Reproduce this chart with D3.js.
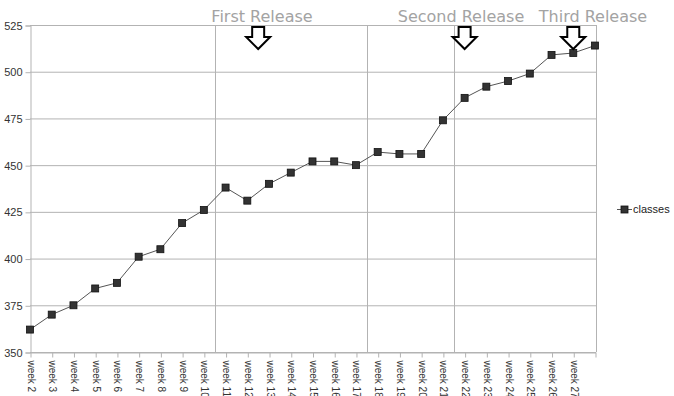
<!DOCTYPE html>
<html>
<head>
<meta charset="utf-8">
<script src="https://cdn.jsdelivr.net/npm/d3@7"></script>
<style>
  html, body { margin: 0; padding: 0; background: #fff; }
  svg { display: block; }
</style>
</head>
<body>
<svg id="chart" width="674" height="396"></svg>
<script>
// Weekly count of classes in the code base
const weeks = ["week 2","week 3","week 4","week 5","week 6","week 7","week 8","week 9","week 10",
  "week 11","week 12","week 13","week 14","week 15","week 16","week 17","week 18","week 19",
  "week 20","week 21","week 22","week 23","week 24","week 25","week 26","week 27","week 28"];
const classes = [362,370,375,384,387,401,405,419,426,438,431,440,446,452,452,450,457,456,456,
  474,486,492,495,499,509,510,514];
const yTicks = [350,375,400,425,450,475,500,525];
// Week labels drawn under the axis (the last category has no label)
const shownLabels = weeks.slice(0, 26);
// Phase separators: drawn halfway between these two weeks
const separators = [["week 10","week 11"],["week 17","week 18"],["week 21","week 22"]];
// Release markers: label, week, fractional step offset
const releases = [
  {label: "First Release", week: "week 12", shift: 0.5},
  {label: "Second Release", week: "week 22", shift: 0},
  {label: "Third Release", week: "week 27", shift: 0}
];
const releaseLabelX = [262, 461, 593];
const seriesName = "classes";

const svg = d3.select("#chart");
const margin = {left: 30, top: 25};

const x = d3.scalePoint().domain(weeks).range([margin.left, 595]);
const y = d3.scaleLinear().domain([350, 525]).range([352, margin.top]);
const step = x.step();

const grid = "#b3b3b3";
const font = "Liberation Sans, Arial, sans-serif";

// horizontal gridlines
svg.append("g").selectAll("line").data(yTicks).join("line")
  .attr("x1", margin.left).attr("x2", 596)
  .attr("y1", d => y(d) + 0.5).attr("y2", d => y(d) + 0.5)
  .attr("stroke", grid).attr("stroke-width", 1);

// vertical separators and right frame
const vx = separators.map(([a, b]) => (x(a) + x(b)) / 2).concat([596]);
svg.append("g").selectAll("line").data(vx).join("line")
  .attr("x1", d => Math.round(d) + 0.5).attr("x2", d => Math.round(d) + 0.5)
  .attr("y1", y(525)).attr("y2", y(350))
  .attr("stroke", grid).attr("stroke-width", 1);

// y axis
const yAxis = d3.axisLeft(y).tickValues(yTicks).tickSize(5).tickPadding(3);
const gy = svg.append("g").attr("transform", `translate(${margin.left + 0.5},0.5)`).call(yAxis);
gy.select(".domain").attr("stroke", grid);
gy.selectAll(".tick line").attr("stroke", grid);
gy.selectAll("text").attr("font-family", font).attr("font-size", 11).attr("fill", "#333");

// x axis with vertical week labels
const xAxis = d3.axisBottom(x).tickSize(5).tickSizeOuter(0).tickFormat(d => shownLabels.includes(d) ? d : "");
const gx = svg.append("g").attr("transform", `translate(0.5,${y(350) + 0.5})`).call(xAxis);
gx.select(".domain").attr("stroke", grid);
gx.selectAll(".tick line").attr("stroke", grid);
gx.selectAll("text")
  .attr("font-family", font).attr("font-size", 10).attr("fill", "#333")
  .attr("text-anchor", "start")
  .attr("transform", "translate(0,8) rotate(90)")
  .attr("x", 0).attr("y", 0).attr("dy", "0.35em");

// series line
const line = d3.line().x((d, i) => x(weeks[i])).y(d => y(d));
svg.append("path").datum(classes)
  .attr("d", line).attr("fill", "none")
  .attr("stroke", "#555").attr("stroke-width", 1);

// markers
const ms = 7;
svg.append("g").selectAll("rect").data(classes).join("rect")
  .attr("x", (d, i) => x(weeks[i]) - ms / 2)
  .attr("y", d => y(d) - ms / 2)
  .attr("width", ms).attr("height", ms)
  .attr("fill", "#333").attr("stroke", "#111").attr("stroke-width", 0.8);

// release arrows and captions
function arrowPath(cx, top) {
  const sw = 6, hw = 12, sh = 10, h = 22;
  return `M${cx - sw},${top} L${cx + sw},${top} L${cx + sw},${top + sh} L${cx + hw},${top + sh} ` +
         `L${cx},${top + h} L${cx - hw},${top + sh} L${cx - sw},${top + sh} Z`;
}
releases.forEach((r, i) => {
  const cx = x(r.week) + r.shift * step;
  svg.append("path").attr("d", arrowPath(cx, 27))
    .attr("fill", "#fff").attr("stroke", "#000").attr("stroke-width", 2)
    .attr("stroke-linejoin", "miter");
  svg.append("text").text(r.label)
    .attr("x", releaseLabelX[i]).attr("y", 22)
    .attr("text-anchor", "middle")
    .attr("font-family", "DejaVu Sans, sans-serif").attr("font-size", 16)
    .attr("fill", "#a3a3a3");
});

// legend
const lg = svg.append("g").attr("transform", "translate(617,209)");
lg.append("line").attr("x1", 0).attr("x2", 15).attr("y1", 0.5).attr("y2", 0.5)
  .attr("stroke", "#555").attr("stroke-width", 1);
lg.append("rect").attr("x", 4).attr("y", -3).attr("width", ms).attr("height", ms)
  .attr("fill", "#333").attr("stroke", "#111").attr("stroke-width", 0.8);
lg.append("text").text(seriesName).attr("x", 16).attr("y", 0).attr("dy", "0.35em")
  .attr("font-family", font).attr("font-size", 11).attr("fill", "#222");
</script>
</body>
</html>
